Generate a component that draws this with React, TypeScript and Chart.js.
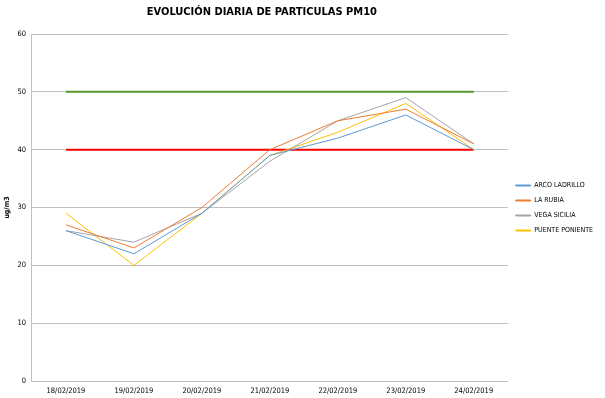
import React, { useEffect, useRef } from "react";
import { Chart, registerables } from "chart.js";

Chart.register(...registerables);

const categories = ["18/02/2019", "19/02/2019", "20/02/2019", "21/02/2019", "22/02/2019", "23/02/2019", "24/02/2019"];
const arcoLadrillo = [26, 22, 29, 39, 42, 46, 40];
const laRubia = [27, 23, 30, 40, 45, 47, 41];
const vegaSicilia = [26, 24, 29, 38, 45, 49, 41];
const puentePoniente = [29, 20, 29, 39, 43, 48, 40];
const limite50 = [50, 50, 50, 50, 50, 50, 50];
const limite40 = [40, 40, 40, 40, 40, 40, 40];
const yTicks = [0, 10, 20, 30, 40, 50, 60];
const titleText = "EVOLUCIÓN DIARIA DE PARTICULAS PM10";

const FONT = "'Liberation Sans Narrow', 'DejaVu Sans Condensed', 'Liberation Sans', sans-serif";

const titlePlugin = {
  id: "centeredTitle",
  afterLayout(chart: any) {
    if (chart.legend) {
      chart.legend.top -= 10;
      chart.legend.bottom -= 10;
    }
  },
  afterDraw(chart: any) {
    const { ctx, chartArea } = chart;
    ctx.save();
    ctx.font = `bold 11px ${FONT}`;
    ctx.fillStyle = "#000";
    ctx.textAlign = "center";
    ctx.textBaseline = "middle";
    ctx.fillText(titleText, (chartArea.left + chartArea.right) / 2 - 8, 12);
    ctx.restore();
  },
};

export default function App() {
  const ref = useRef<HTMLCanvasElement | null>(null);
  useEffect(() => {
    document.body.style.margin = "0";
    const ctx = ref.current!;
    const mk = (label: string, data: number[], color: string, width = 1, legend = true) => ({
      label,
      data,
      borderColor: color,
      backgroundColor: color,
      borderWidth: width,
      pointRadius: 0,
      tension: 0,
      _legend: legend,
    });
    const chart = new Chart(ctx, {
      type: "line",
      data: {
        labels: categories,
        datasets: [
          mk("ARCO LADRILLO", arcoLadrillo, "#5B9BD5"),
          mk("LA RUBIA", laRubia, "#ED7D31"),
          mk("VEGA SICILIA", vegaSicilia, "#A5A5A5"),
          mk("PUENTE PONIENTE", puentePoniente, "#FFC000"),
          mk("Límite 50", limite50, "#56972F", 2, false),
          mk("Límite 40", limite40, "#FF0000", 2, false),
        ] as any,
      },
      plugins: [titlePlugin],
      options: {
        animation: false,
        responsive: false,
        layout: { padding: { left: 0, right: 2, top: 34, bottom: -4 } },
        plugins: {
          title: { display: false },
          legend: {
            position: "right",
            labels: {
              filter: (item: any, data: any) => data.datasets[item.datasetIndex]._legend,
              boxWidth: 15,
              boxHeight: 1,
              color: "#000",
              font: { family: FONT, size: 7 },
              padding: 8,
            },
          },
          tooltip: { enabled: false },
        },
        scales: {
          x: {
            offset: true,
            grid: { display: false, drawTicks: false },
            border: { color: "#BFBFBF" },
            ticks: { color: "#000", font: { family: FONT, size: 7.5 }, maxRotation: 0, padding: 6 },
          },
          y: {
            min: 0,
            max: 60,
            afterBuildTicks: (axis: any) => {
              axis.ticks = yTicks.map((v) => ({ value: v }));
            },
            grid: { color: "#BFBFBF", drawTicks: false },
            border: { color: "#BFBFBF" },
            ticks: { color: "#000", font: { family: FONT, size: 7.5 }, padding: 6 },
            title: {
              display: true,
              text: "ug/m3",
              color: "#000",
              font: { family: FONT, size: 7, weight: "bold" },
              padding: { top: 3, bottom: 0 },
            },
          },
        },
      } as any,
    });
    return () => chart.destroy();
  }, []);
  return (
    <div style={{ width: 605, height: 398, position: "relative", background: "#fff" }}>
      <canvas ref={ref} width={605} height={398} />
    </div>
  );
}
